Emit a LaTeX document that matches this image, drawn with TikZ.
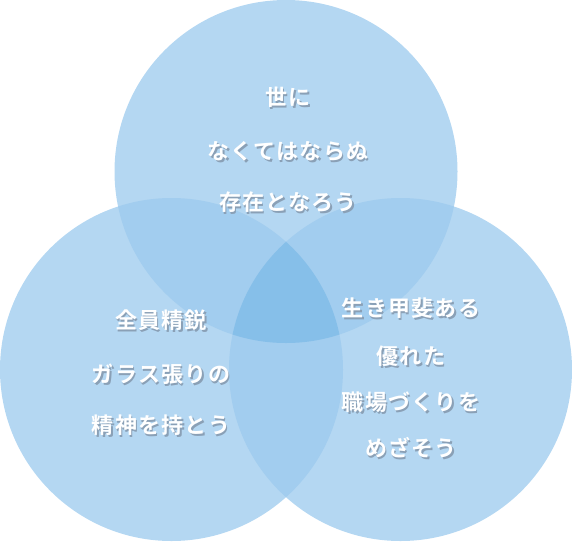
\documentclass[tikz,border=0pt]{standalone}
\usepackage{fontspec}
\newfontfamily\jpfont{Noto Sans CJK JP}[BoldFont={Noto Sans CJK JP Bold},LetterSpace=6]
\definecolor{ringone}{RGB}{180,215,242}
\definecolor{ringtwo}{RGB}{162,205,239}
\definecolor{ringthree}{RGB}{134,191,233}
\definecolor{shadowgray}{RGB}{138,160,182}
\usetikzlibrary{positioning}
% white text with a soft drop shadow, in one box
\newcommand{\shadedmotto}[1]{%
  \leavevmode\rlap{\kern1.5pt\raisebox{-1.8pt}{\textcolor{shadowgray}{#1}}}#1}

\begin{document}
\begin{tikzpicture}[
    x=1pt, y=-1pt,
    motto/.style={font=\jpfont\bfseries\fontsize{22pt}{22pt}\selectfont,
                  text=white, inner sep=0pt}
  ]
    \useasboundingbox (0,0) rectangle (572,541);

    % circles
    \coordinate (ctop) at (286,171.5);
    \coordinate (cleft) at (171.5,369.5);
    \coordinate (cright) at (400.5,369.5);
    \def\rad{171.5}

    \fill[ringone] (ctop) circle[radius=\rad];
    \fill[ringone] (cleft) circle[radius=\rad];
    \fill[ringone] (cright) circle[radius=\rad];

    % pairwise overlaps
    \begin{scope}
      \clip (ctop) circle[radius=\rad];
      \fill[ringtwo] (cleft) circle[radius=\rad];
      \fill[ringtwo] (cright) circle[radius=\rad];
    \end{scope}
    \begin{scope}
      \clip (cleft) circle[radius=\rad];
      \fill[ringtwo] (cright) circle[radius=\rad];
    \end{scope}

    % centre overlap
    \begin{scope}
      \clip (ctop) circle[radius=\rad];
      \clip (cleft) circle[radius=\rad];
      \fill[ringthree] (cright) circle[radius=\rad];
    \end{scope}

    % texts
    \foreach \name/\x/\y/\txt in {
        t1/288/98/世に, t2/288/152/なくてはならぬ, t3/288/203/存在となろう,
        l1/161/321/全員精鋭, l2/161/375/ガラス張りの, l3/161/426/精神を持とう,
        r1/411/309/生き甲斐ある, r2/411/357/優れた,
        r3/411/403/職場づくりを, r4/411/449/めざそう} {
      \node[motto] (\name) at (\x,\y) {\shadedmotto{\txt}};
    }
  \end{tikzpicture}
\end{document}
